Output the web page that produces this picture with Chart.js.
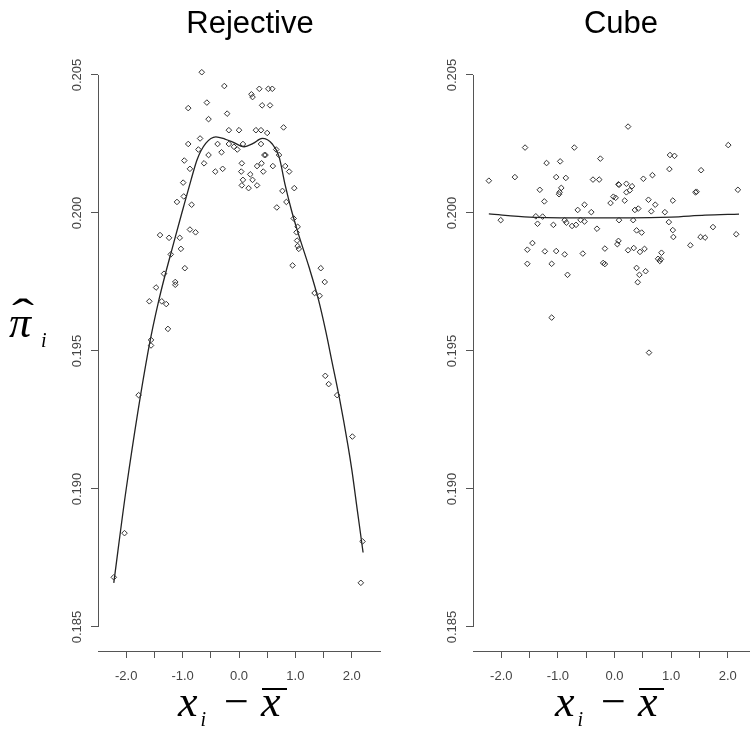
<!DOCTYPE html>
<html lang="en">
<head>
<meta charset="UTF-8">
<title>Rejective vs Cube</title>
<script src="https://cdn.jsdelivr.net/npm/chart.js@4"></script>
<style>
  body { margin: 0; width: 750px; height: 737px; overflow: hidden; background: #fff; position: relative; }
  canvas { position: absolute; top: 0; }
  #rej { left: 0; }
  #cube { left: 400px; }
  .lab { position: absolute; font-family: 'Liberation Serif', 'Times New Roman', serif; font-size: 44px;
         line-height: 1; white-space: nowrap; color: #000; }
  .lab i { font-style: italic; }
  .lab sub { font-size: 20px; line-height: 1; vertical-align: -10px; font-style: italic; }
  .xlab { top: 680px; }
  .xlab .op { margin-left: 18px; }
  .xlab .bar { position: relative; margin-left: 12px; }
  .xlab .bar::after { content: ''; position: absolute; left: 1px; width: 25px; top: 11px; height: 2px; background: #000; }
  .ylab { left: 9px; top: 301px; }
  .ylab .pi { position: relative; }
  .ylab .hat { position: absolute; left: 3px; top: -5px; font-style: normal; transform: scaleX(1.5); transform-origin: left center; }
</style>
</head>
<body>
<canvas id="rej" width="500" height="737"></canvas>
<canvas id="cube" width="442" height="737"></canvas>

<div class="lab xlab" style="left:178px"><i>x</i><sub style="margin-left:3px">i</sub><span class="op">&minus;</span><i class="bar">x</i></div>
<div class="lab xlab" style="left:555px"><i>x</i><sub style="margin-left:3px">i</sub><span class="op">&minus;</span><i class="bar">x</i></div>
<div class="lab ylab"><i class="pi">&pi;<span class="hat">&#710;</span></i><sub style="margin-left:10px">i</sub></div>

<script>
// values
const titles = ['Rejective', 'Cube'];
const xTicks = [-2, -1.5, -1, -0.5, 0, 0.5, 1, 1.5, 2];
const yTicks = [0.185, 0.190, 0.195, 0.200, 0.205];

const rejX = [-0.66,-0.26,0.22,0.24,0.36,0.52,0.59,-0.90,-0.57,0.41,0.55,-0.21,-0.54,-0.18,0.00,0.30,0.39,0.50,0.79,
  -0.90,-0.69,-0.72,-0.38,-0.18,-0.09,-0.03,0.07,0.39,0.45,0.47,0.66,0.71,-0.31,
  -0.54,-0.97,-0.62,-0.87,-0.42,-0.29,0.05,0.04,0.20,0.32,0.40,0.43,0.60,0.82,0.89,
  -0.99,0.07,0.24,0.05,0.17,0.32,-0.98,-1.10,-0.84,0.77,0.98,0.84,0.67,
  -1.40,-1.24,-1.05,-1.03,-0.87,-0.77,0.97,1.04,1.02,1.03,1.04,1.06,
  -1.21,-0.96,-1.33,-1.47,-1.13,-1.13,-1.59,-1.37,-1.29,-1.26,-1.56,-1.56,-1.78,
  0.95,1.45,1.52,1.34,1.43,1.53,1.59,1.74,2.01,-2.22,-2.03,2.19,2.16];
const rejY = [0.2051,0.2046,0.2043,0.2042,0.2045,0.2045,0.2045,0.2038,0.2040,0.2039,0.2039,0.2036,0.2034,0.2030,0.2030,0.2030,0.2030,0.2029,0.2031,
  0.2025,0.2027,0.2023,0.2025,0.2025,0.2024,0.2023,0.2025,0.2025,0.2021,0.2021,0.2023,0.2021,0.2022,
  0.2021,0.2019,0.2018,0.2016,0.2015,0.2016,0.2018,0.2015,0.2014,0.2017,0.2018,0.2015,0.2017,0.2017,0.2015,
  0.2011,0.2012,0.2012,0.2010,0.2009,0.2010,0.2006,0.2004,0.2003,0.2008,0.2009,0.2004,0.2002,
  0.1992,0.1991,0.1991,0.1987,0.1994,0.1993,0.1998,0.1995,0.1993,0.1990,0.1988,0.1987,
  0.1985,0.1980,0.1978,0.1973,0.1975,0.1974,0.1968,0.1968,0.1967,0.1958,0.1954,0.1952,0.1934,
  0.1981,0.1980,0.1975,0.1971,0.1970,0.1941,0.1938,0.1934,0.1919,0.1868,0.1884,0.1881,0.1866];
const rejFitX = [-2.22,-2.0,-1.61,-1.42,-1.16,-1.0,-0.85,-0.74,-0.59,-0.41,-0.25,-0.12,0.09,0.25,0.41,0.59,0.71,0.82,0.93,1.05,1.24,1.41,1.54,1.65,1.78,1.93,2.0,2.1,2.2];
const rejFitY = [0.1866,0.1900,0.1950,0.19685,0.1989,0.2001,0.2012,0.20195,0.20252,0.20276,0.20268,0.20258,0.2024,0.20252,0.2027,0.2025,0.20204,0.2010,0.2001,0.19926,0.19805,0.19685,0.1957,0.1946,0.1933,0.1916,0.1907,0.1892,0.1877];

const cubeX = [0.24,-1.58,-0.71,2.01,0.98,1.06,-1.20,-0.96,-0.25,-2.22,-1.76,-1.03,-0.86,
  -0.38,-0.27,0.07,0.08,0.21,0.31,0.51,0.67,0.97,1.53,-1.32,-0.97,-0.94,-0.98,0.21,0.27,
  -0.02,0.02,0.18,1.43,1.45,2.18,-1.24,-0.07,-0.53,-0.65,0.60,0.72,0.36,0.42,0.65,0.89,1.03,-0.41,
  -2.01,-1.39,-1.27,-1.36,-1.08,-0.88,-0.85,-0.75,-0.68,
  -0.60,-0.53,-0.31,0.08,0.33,0.39,0.48,0.96,1.03,1.04,1.52,1.60,1.74,2.15,
  -1.45,-1.54,-1.23,-1.03,-0.88,-0.56,-0.17,0.05,0.07,0.24,0.34,0.45,0.53,0.83,0.77,0.80,0.82,1.34,
  -1.54,-1.11,-0.83,-0.20,-0.17,0.39,0.55,0.44,0.41,-1.11,0.61];
const cubeY = [0.20313,0.20237,0.20237,0.20246,0.2021,0.20207,0.20181,0.20187,0.20197,0.20117,0.2013,0.2013,0.20127,
  0.20121,0.20121,0.20104,0.20102,0.20106,0.20097,0.20124,0.20137,0.20159,0.20155,0.20084,0.20075,0.20091,0.20068,0.20075,0.20082,
  0.20059,0.20055,0.20045,0.20075,0.20077,0.20084,0.20042,0.20036,0.2003,0.20011,0.20048,0.2003,0.20011,0.20016,0.20006,0.20003,0.20045,0.20003,
  0.19974,0.19988,0.19987,0.19961,0.19957,0.19974,0.19965,0.19953,0.19957,
  0.19975,0.19969,0.19943,0.19974,0.19974,0.19937,0.19929,0.19967,0.19938,0.19913,0.19913,0.19911,0.19949,0.19923,
  0.19891,0.19867,0.19861,0.19862,0.1985,0.19853,0.19871,0.19887,0.19899,0.19865,0.19873,0.19859,0.1987,0.19856,0.19834,0.19826,0.19832,0.19883,
  0.19816,0.19816,0.19776,0.19819,0.19815,0.19801,0.19789,0.19776,0.19749,0.19621,0.19494];
const cubeFitX = [-2.22,-1.5,-0.5,0.3,1.0,1.6,2.2];
const cubeFitY = [0.19997,0.19985,0.19982,0.19982,0.19985,0.19992,0.19996];

const font = "'Liberation Sans', Arial, sans-serif";
const axisColor = '#555';

// R style y axis: line only from first to last tick
const yAxisLine = {
  id: 'yAxisLine',
  afterDraw(chart) {
    const { ctx, chartArea, scales } = chart;
    const y = scales.y;
    const x = Math.floor(chartArea.left) + 0.5;
    ctx.save();
    ctx.strokeStyle = axisColor;
    ctx.lineWidth = 1;
    ctx.beginPath();
    ctx.moveTo(x, y.getPixelForValue(yTicks[0]));
    ctx.lineTo(x, y.getPixelForValue(yTicks[yTicks.length - 1]));
    ctx.stroke();
    ctx.restore();
  }
};

function makePanel(id, title, xs, ys, fitX, fitY, leftW, rightW) {
  const pts = xs.map((x, i) => ({ x: x, y: ys[i] }));
  const fit = fitX.map((x, i) => ({ x: x, y: fitY[i] }));
  return new Chart(document.getElementById(id), {
    type: 'scatter',
    data: {
      datasets: [
        { data: pts, pointStyle: 'rectRot', pointRadius: 2.8, borderColor: '#333', borderWidth: 1,
          backgroundColor: 'rgba(0,0,0,0)' },
        { data: fit, showLine: true, pointRadius: 0, borderColor: '#222', borderWidth: 1.3,
          cubicInterpolationMode: 'monotone', fill: false }
      ]
    },
    options: {
      responsive: false,
      animation: false,
      events: [],
      layout: { padding: 0 },
      plugins: {
        legend: { display: false },
        tooltip: { enabled: false },
        title: {
          display: true, text: title, color: '#000',
          font: { family: font, size: 31, weight: 'normal' },
          padding: { top: 6, bottom: 16.8 }
        }
      },
      scales: {
        x: {
          type: 'linear', min: -2.5, max: 2.5,
          afterBuildTicks: s => { s.ticks = xTicks.map(v => ({ value: v })); },
          afterFit: s => { s.height = 86; },
          grid: { drawOnChartArea: false, drawTicks: true, tickLength: 7, color: axisColor },
          border: { display: true, color: axisColor, width: 1 },
          ticks: {
            autoSkip: false, maxRotation: 0, padding: 11, color: '#444',
            font: { family: font, size: 13 },
            callback: v => Number.isInteger(v) ? v.toFixed(1) : ''
          }
        },
        y: {
          type: 'linear', min: 0.18413, max: 0.205543,
          afterBuildTicks: s => { s.ticks = yTicks.map(v => ({ value: v })); },
          afterFit: s => { s.width = leftW; },
          grid: { drawOnChartArea: false, drawTicks: true, tickLength: 7, color: axisColor },
          border: { display: false },
          ticks: {
            minRotation: 90, maxRotation: 90, crossAlign: 'center', padding: -2.5, color: '#444',
            font: { family: font, size: 13 },
            callback: v => v.toFixed(3)
          }
        },
        y2: {
          position: 'right', display: true,
          grid: { display: false }, border: { display: false }, ticks: { display: false },
          afterFit: s => { s.width = rightW; }
        }
      }
    },
    plugins: [yAxisLine]
  });
}

makePanel('rej', titles[0], rejX, rejY, rejFitX, rejFitY, 98, 120);
makePanel('cube', titles[1], cubeX, cubeY, cubeFitX, cubeFitY, 73, 86);
</script>
</body>
</html>
